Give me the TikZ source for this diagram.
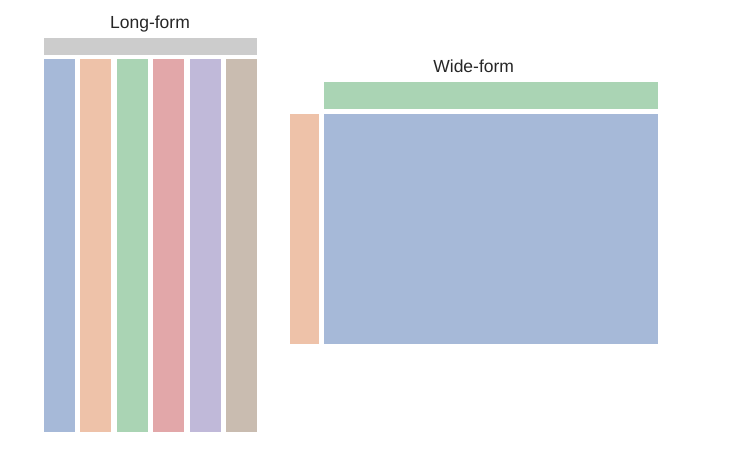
\documentclass[tikz,border=0pt]{standalone}
\usepackage{fontspec}
\setmainfont{Liberation Sans}
\definecolor{cblue}{HTML}{A6B9D8}
\definecolor{corange}{HTML}{EEC2A9}
\definecolor{cgreen}{HTML}{AAD4B4}
\definecolor{cred}{HTML}{E2A7A9}
\definecolor{cpurple}{HTML}{C0B9D9}
\definecolor{cbrown}{HTML}{C9BCB0}
\definecolor{cgray}{HTML}{CCCCCC}
\definecolor{ctext}{HTML}{262626}
\begin{document}
\begin{tikzpicture}[x=1pt,y=-1pt,
  cell/.style={draw=white,line width=0.6pt},
  title/.style={anchor=base,text=ctext,font=\fontsize{17.5}{20}\selectfont,inner sep=0pt}]
\useasboundingbox (0,0) rectangle (742,452);
% Long-form
\node[title] (lt) at (150,28.7) {Long-form};
\path[cell,fill=cgray] (43.3,37.3) rectangle (257.3,55) coordinate (lhead);
\path[cell,fill=cblue]   (43.3,58.3) rectangle (75.3,432.3);
\path[cell,fill=corange] (79.5,58.3) rectangle (111.5,432.3);
\path[cell,fill=cgreen]  (116.5,58.3) rectangle (148.5,432.3);
\path[cell,fill=cred]    (152.5,58.3) rectangle (184.5,432.3);
\path[cell,fill=cpurple] (189.5,58.3) rectangle (221.5,432.3);
\path[cell,fill=cbrown]  (225.5,58.3) rectangle (257.3,432.3);
% Wide-form
\node[title] (wt) at (473.7,72.7) {Wide-form};
\path[cell,fill=cgreen]  (323.3,81.7) rectangle (658.3,109);
\path[cell,fill=corange] (289.3,113.3) rectangle (319.3,344.3);
\path[cell,fill=cblue]   (323.3,113.3) rectangle (658.3,344.3);
\end{tikzpicture}
\end{document}
